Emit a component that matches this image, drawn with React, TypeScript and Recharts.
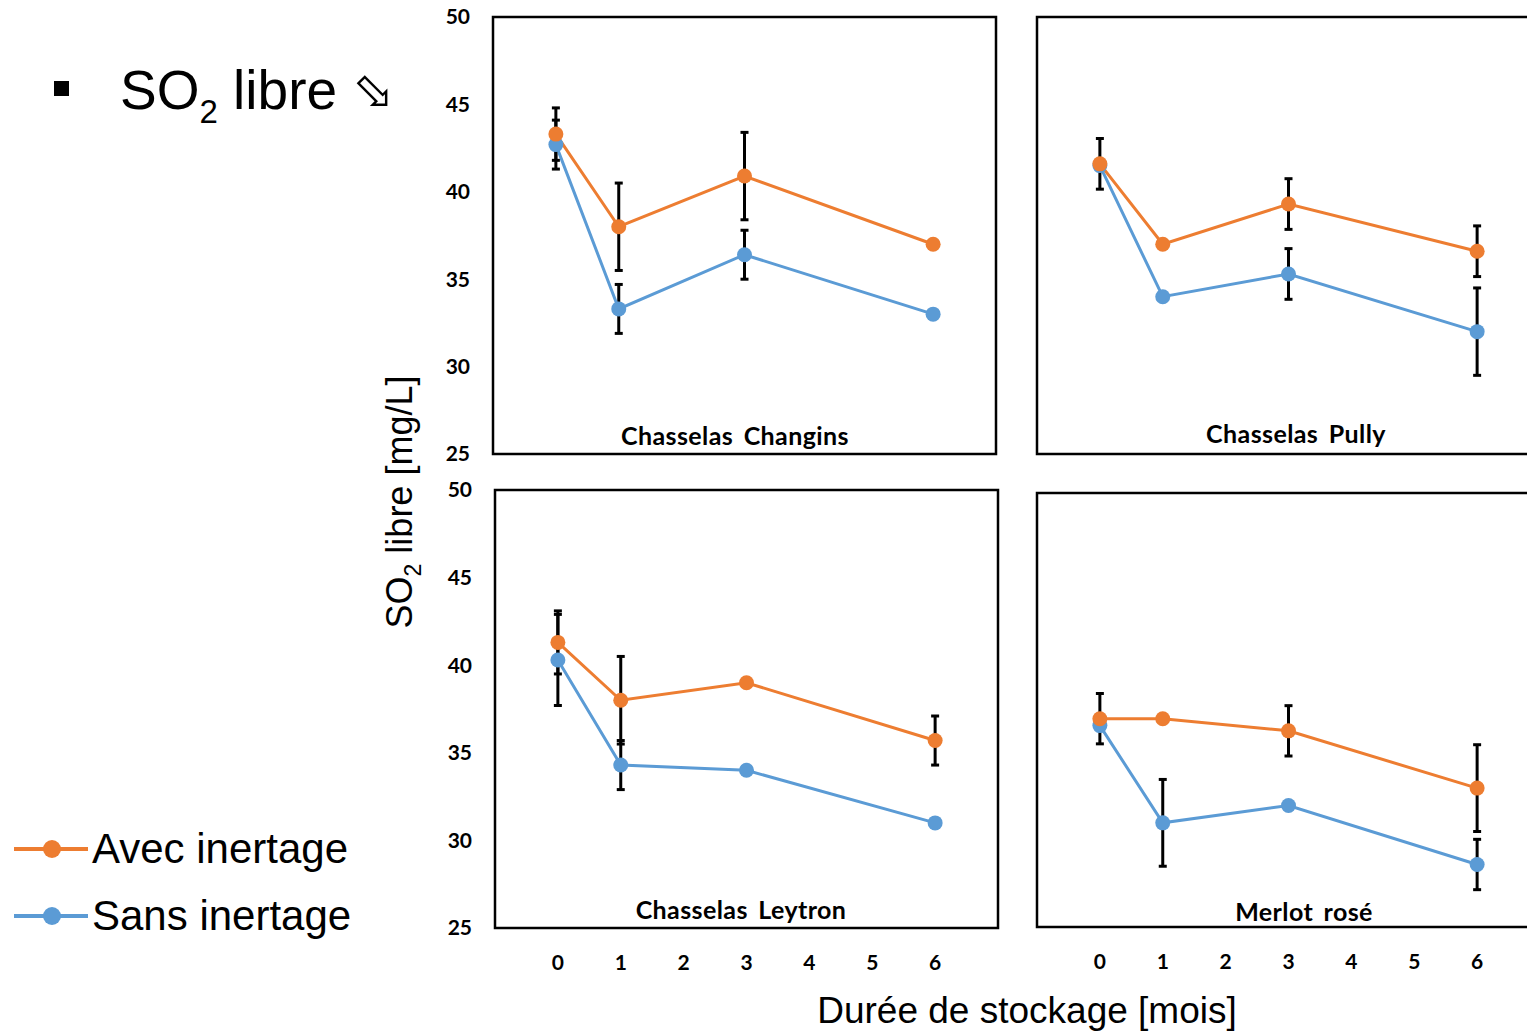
import { ErrorBar, Line, LineChart, ReferenceArea, XAxis, YAxis } from "recharts";

// storage time (months) at which SO2 was measured
const months = [0, 1, 3, 6];
const xTicks = [0, 1, 2, 3, 4, 5, 6];
const yTicks = [25, 30, 35, 40, 45, 50];

// free SO2 [mg/L], "avec" = with inerting, "sans" = without
const changinsAvec = [43.3, 38.0, 40.9, 37.0];
const changinsAvecErr = [1.5, 2.5, 2.5, null];
const changinsSans = [42.7, 33.3, 36.4, 33.0];
const changinsSansErr = [1.4, 1.4, 1.4, null];

const pullyAvec = [41.6, 37.0, 39.3, 36.6];
const pullyAvecErr = [1.45, null, 1.45, 1.45];
const pullySans = [41.5, 34.0, 35.3, 32.0];
const pullySansErr = [null, null, 1.45, 2.5];

const leytronAvec = [41.3, 38.0, 39.0, 35.7];
const leytronAvecErr = [1.8, 2.5, null, 1.4];
const leytronSans = [40.3, 34.3, 34.0, 31.0];
const leytronSansErr = [2.6, 1.4, null, null];

const merlotAvec = [37.0, 37.0, 36.3, 33.0];
const merlotAvecErr = [1.45, null, 1.45, 2.5];
const merlotSans = [36.6, 31.0, 32.0, 28.6];
const merlotSansErr = [null, 2.5, null, 1.45];

const ORANGE = "#ED7D31";
const BLUE = "#5B9BD5";
const ARIAL = '"Liberation Sans", Arial, sans-serif';
const CALIBRI = 'Lato, "Open Sans", sans-serif';

type Panel = {
  title: string;
  avec: (number | null)[];
  avecErr: (number | null)[];
  sans: (number | null)[];
  sansErr: (number | null)[];
  left: number;
  top: number;
  width: number;
  height: number;
  showX: boolean;
  showY: boolean;
  titleX: number;
  titleY: number;
};

const panels: Panel[] = [
  {
    title: "Chasselas Changins",
    avec: changinsAvec,
    avecErr: changinsAvecErr,
    sans: changinsSans,
    sansErr: changinsSansErr,
    left: 493,
    top: 17,
    width: 503,
    height: 437,
    showX: false,
    showY: true,
    titleX: 735,
    titleY: 435,
  },
  {
    title: "Chasselas Pully",
    avec: pullyAvec,
    avecErr: pullyAvecErr,
    sans: pullySans,
    sansErr: pullySansErr,
    left: 1037,
    top: 17,
    width: 503,
    height: 437,
    showX: false,
    showY: false,
    titleX: 1296,
    titleY: 433,
  },
  {
    title: "Chasselas Leytron",
    avec: leytronAvec,
    avecErr: leytronAvecErr,
    sans: leytronSans,
    sansErr: leytronSansErr,
    left: 495,
    top: 490,
    width: 503,
    height: 438,
    showX: true,
    showY: true,
    titleX: 741,
    titleY: 909,
  },
  {
    title: "Merlot rosé",
    avec: merlotAvec,
    avecErr: merlotAvecErr,
    sans: merlotSans,
    sansErr: merlotSansErr,
    left: 1037,
    top: 493,
    width: 503,
    height: 434,
    showX: true,
    showY: false,
    titleX: 1304,
    titleY: 911,
  },
];

const tickStyle = { fill: "#000", fontSize: 21, fontWeight: 700, fontFamily: CALIBRI };

function PanelChart({ p }: { p: Panel }) {
  const rows = months.map((m, i) => ({
    month: m,
    avec: p.avec[i],
    avecErr: p.avecErr[i],
    sans: p.sans[i],
    sansErr: p.sansErr[i],
  }));
  const yAxisW = 60;
  const mTop = 20;
  const mRight = 10;
  const xAxisH = p.showX ? 50 : 0;
  const mBottom = p.showX ? 0 : 10;
  const w = yAxisW + p.width + mRight;
  const h = mTop + p.height + xAxisH + mBottom;

  return (
    <div style={{ position: "absolute", left: p.left - yAxisW, top: p.top - mTop }}>
      <LineChart
        width={w}
        height={h}
        data={rows}
        margin={{ top: mTop, right: mRight, bottom: mBottom, left: 0 }}
      >
        <XAxis
          type="number"
          dataKey="month"
          domain={[-1, 7]}
          ticks={xTicks}
          hide={!p.showX}
          height={xAxisH}
          axisLine={false}
          tickLine={false}
          tickSize={0}
          tickMargin={27}
          interval={0}
          tick={tickStyle}
        />
        <YAxis
          type="number"
          domain={[25, 50]}
          ticks={yTicks}
          width={yAxisW}
          axisLine={false}
          tickLine={false}
          tickSize={0}
          tickMargin={23}
          interval={0}
          tick={p.showY ? tickStyle : false}
        />
        <ReferenceArea
          x1={-1}
          x2={7}
          y1={25}
          y2={50}
          fill="none"
          stroke="#000"
          strokeWidth={2.5}
          ifOverflow="visible"
        />
        <Line
          type="linear"
          dataKey="sans"
          stroke={BLUE}
          strokeWidth={3}
          dot={{ r: 7.5, fill: BLUE, stroke: BLUE, strokeWidth: 0 }}
          isAnimationActive={false}
        >
          <ErrorBar dataKey="sansErr" direction="y" width={4} stroke="#000" strokeWidth={3} />
        </Line>
        <Line
          type="linear"
          dataKey="avec"
          stroke={ORANGE}
          strokeWidth={3}
          dot={{ r: 7.5, fill: ORANGE, stroke: ORANGE, strokeWidth: 0 }}
          isAnimationActive={false}
        >
          <ErrorBar dataKey="avecErr" direction="y" width={4} stroke="#000" strokeWidth={3} />
        </Line>
      </LineChart>
    </div>
  );
}

function LegendRow({ color, label, y }: { color: string; label: string; y: number }) {
  return (
    <div style={{ position: "absolute", left: 14, top: y - 24, height: 48, display: "flex", alignItems: "center" }}>
      <svg width={74} height={20} style={{ display: "block" }}>
        <line x1={0} y1={10} x2={74} y2={10} stroke={color} strokeWidth={4} />
        <circle cx={38} cy={10} r={9} fill={color} />
      </svg>
      <span style={{ fontFamily: ARIAL, fontSize: 42, color: "#000", marginLeft: 4, lineHeight: 1 }}>
        {label}
      </span>
    </div>
  );
}

export default function App() {
  return (
    <div
      style={{
        position: "fixed",
        left: 0,
        top: 0,
        width: 1527,
        height: 1031,
        overflow: "hidden",
        background: "#fff",
      }}
    >
      {/* slide heading */}
      <div style={{ position: "absolute", left: 54, top: 81, width: 15, height: 15, background: "#000" }} />
      <div
        style={{
          position: "absolute",
          left: 120,
          top: 63,
          fontFamily: ARIAL,
          fontSize: 55,
          lineHeight: 1,
          whiteSpace: "nowrap",
          color: "#000",
        }}
      >
        SO<span style={{ fontSize: 33, position: "relative", top: 14 }}>2</span> libre{" "}
        <span style={{ fontFamily: '"DejaVu Sans"', fontSize: 50, position: "relative", top: -2 }}>⬂</span>
      </div>

      {panels.map((p) => (
        <PanelChart key={p.title} p={p} />
      ))}

      {panels.map((p) => (
        <div
          key={p.title + "-t"}
          style={{
            position: "absolute",
            left: p.titleX,
            top: p.titleY,
            transform: "translate(-50%, -50%)",
            fontFamily: CALIBRI,
            fontWeight: 700,
            fontSize: 25,
            letterSpacing: 0.4,
            wordSpacing: 4,
            whiteSpace: "nowrap",
            color: "#000",
          }}
        >
          {p.title}
        </div>
      ))}

      {/* y-axis title */}
      <div
        style={{
          position: "absolute",
          left: 400,
          top: 502,
          transform: "translate(-50%, -50%) rotate(-90deg)",
          fontFamily: ARIAL,
          fontSize: 36,
          lineHeight: 1,
          whiteSpace: "nowrap",
          color: "#000",
        }}
      >
        SO<span style={{ fontSize: 23, position: "relative", top: 9 }}>2</span> libre [mg/L]
      </div>

      {/* x-axis title */}
      <div
        style={{
          position: "absolute",
          left: 1027,
          top: 992,
          transform: "translateX(-50%)",
          fontFamily: ARIAL,
          fontSize: 37,
          lineHeight: 1,
          whiteSpace: "nowrap",
          color: "#000",
        }}
      >
        Durée de stockage [mois]
      </div>

      <LegendRow color={ORANGE} label="Avec inertage" y={849} />
      <LegendRow color={BLUE} label="Sans inertage" y={916} />
    </div>
  );
}
